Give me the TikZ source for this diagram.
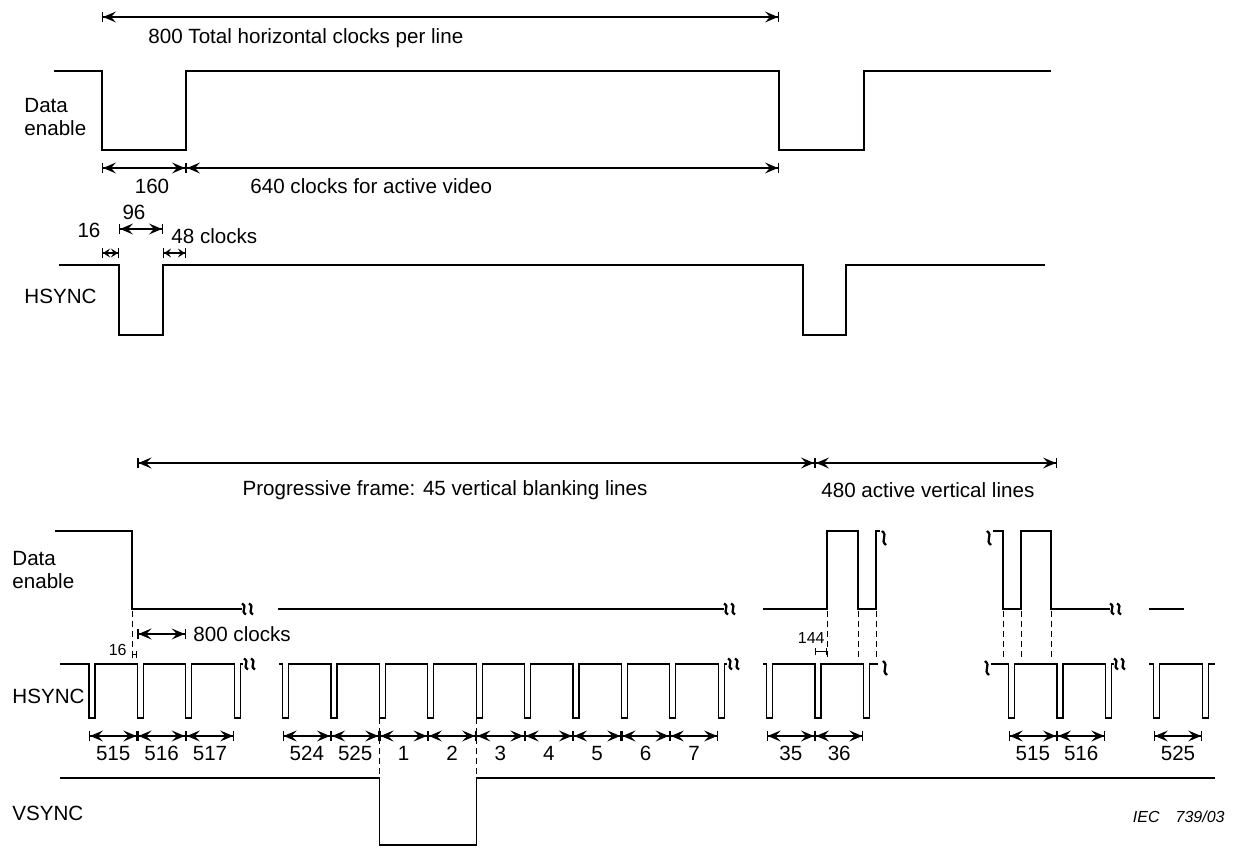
\documentclass[tikz,border=0pt]{standalone}
\usepackage{fontspec}
\setmainfont{Liberation Sans}
\usepackage{tikz}
\usetikzlibrary{arrows.meta, positioning, calc}
\tikzset{
  % Timing diagram styles
  signal/.style={line width=0.6pt},
  guide/.style={line width=0.5pt, dash pattern=on 3pt off 2pt},
  dimline/.style={line width=0.55pt, {Bar[width=5pt,sep=0pt]Stealth[length=6.5pt,width=5.5pt,inset=2.6pt,sep=0pt]}-{Stealth[length=6.5pt,width=5.5pt,inset=2.6pt,sep=0pt]Bar[width=5pt,sep=0pt]}},
  shortdim/.style={line width=0.55pt, {Bar[width=5pt,sep=0pt]Stealth[length=3.5pt,width=4.5pt,inset=1.4pt,sep=0pt]}-{Stealth[length=3.5pt,width=4.5pt,inset=1.4pt,sep=0pt]Bar[width=5pt,sep=0pt]}},
  tickline/.style={line width=0.5pt, {Bar[width=3.5pt]}-{Bar[width=3.5pt]}},
  txt/.style={font=\fontsize{10.3}{11.5}\selectfont, inner sep=0pt},
  smalltxt/.style={font=\fontsize{8}{9.6}\selectfont, inner sep=0pt},
  signame/.style={txt, align=left, anchor=west},
}
% wavy break marks: x, y, half height
\newcommand{\wavemark}[3]{%
  \draw[line width=1.1pt] (#1-2,#2-#3) .. controls +(6.5,#3*0.7) and +(-6.5,-#3*0.7) .. (#1+2,#2+#3);}
\newcommand{\twobreak}[2]{\wavemark{#1}{#2}{5.5}\wavemark{#1+7}{#2}{5.5}}
% HSYNC pulse train: start x, first pulse, last pulse, end x
\newcommand{\hgroup}[4]{%
  \draw[signal] (#1,664) foreach \k in {#2,...,#3} { -- ({89+48.4*\k},664) -- ++(0,54) -- ++(6,0) -- ++(0,-54) } -- (#4,664);}

\begin{document}
\begin{tikzpicture}[x=0.5pt, y=-0.5pt]
    \useasboundingbox (0,0) rectangle (1233,854);

    % === One line ===
    \coordinate (l0) at (102,17);
    \coordinate (l1) at (779,17);
    \draw[dimline] (l0) -- (l1);
    \node[txt, anchor=west] (total) at (148,38) {800 Total horizontal clocks per line};

    % Data enable
    \node[signame] (de1) at (24,117) {Data\\enable};
    \draw[signal] (54,71) -- (102,71) -- (102,150) -- (186,150) -- (186,71) -- (779,71)
      -- (779,150) -- (864,150) -- (864,71) -- (1051,71);

    % blanking / active
    \coordinate (a0) at (102,168);
    \coordinate (a1) at (186,168);
    \coordinate (a2) at (779,168);
    \draw[dimline] (a0) -- (a1);
    \draw[dimline] (a1) -- (a2);
    \node[txt] (blank160) at (152,186) {160};
    \node[txt, anchor=west] (act640) at (250,186) {640 clocks for active video};

    % porches and sync width
    \node[txt] (fp) at (89,230) {16};
    \node[txt] (sw) at (134,212) {96};
    \node[txt, anchor=west] (bp) at (171,236) {48 clocks};
    \draw[shortdim] (102,253) -- (119,253);
    \draw[dimline] (119,229) -- (163,229);
    \draw[shortdim] (163,253) -- (186,253);

    % HSYNC
    \node[signame] (hs1) at (24,296) {HSYNC};
    \draw[signal] (59,265) -- (119,265) -- (119,335) -- (163,335) -- (163,265) -- (803,265)
      -- (803,335) -- (846,335) -- (846,265) -- (1045,265);

    % === One frame ===
    \foreach \k in {0,...,23}
      \coordinate (p\k) at ({89+48.4*\k},736);
    \coordinate (vtop) at (0,463);
    \draw[dimline] (p1 |- vtop) -- (p15 |- vtop);
    \draw[dimline] (p15 |- vtop) -- (p20 |- vtop);
    \node[txt] (vblank) at (445,490) {Progressive frame: 45 vertical blanking lines};
    \node[txt, anchor=west] (vactive) at (821,490) {480 active vertical lines};

    % Data enable
    \node[signame] (de2) at (12,570) {Data\\enable};
    \draw[signal] (55,531) -- (132,531) -- (132,609) -- (242,609);
    \twobreak{244}{609}
    \draw[signal] (278,609) -- (724,609);
    \twobreak{726}{609}
    \draw[signal] (763,609) -- (827,609) -- (827,531) -- (858,531) -- (858,609) -- (876,609)
      -- (876,531) -- (880,531);
    \wavemark{884}{538}{7}
    \wavemark{989}{538}{7}
    \draw[signal] (993,531) -- (1003,531) -- (1003,609) -- (1021,609) -- (1021,531) -- (1051,531)
      -- (1051,609) -- (1110,609);
    \twobreak{1112}{609}
    \draw[signal] (1149,609) -- (1184,609);

    % alignment guides
    \foreach \x in {132,827,858,876,1003,1021,1051}
      \draw[guide] (\x,611) -- (\x,658);
    \draw[guide] (p6 |- 0,718) -- (p6 |- 0,778);
    \draw[guide] (p8 |- 0,718) -- (p8 |- 0,778);

    % line period and offsets
    \draw[dimline] (p1 |- 0,634) -- (p2 |- 0,634);
    \node[txt, anchor=west] (clk800) at (193,634) {800 clocks};
    \draw[tickline] (132,655) -- (p1 |- 0,655);
    \node[smalltxt, anchor=east] (off16) at (127,650) {16};
    \draw[tickline] (p15 |- 0,652) -- (827,652);
    \node[smalltxt, anchor=east] (off144) at (825,638) {144};

    % HSYNC
    \node[signame] (hs2) at (12,696) {HSYNC};
    \hgroup{60}{0}{3}{243}
    \twobreak{246}{664}
    \hgroup{279}{4}{13}{727}
    \twobreak{730}{664}
    \hgroup{763}{14}{16}{878}
    \wavemark{885}{668}{7}
    \wavemark{987}{668}{7}
    \hgroup{991}{19}{21}{1114}
    \twobreak{1116}{664}
    \hgroup{1149}{22}{23}{1215}

    % line numbers
    \foreach \a/\b/\t in {0/1/515, 1/2/516, 2/3/517, 4/5/524, 5/6/525, 6/7/1, 7/8/2, 8/9/3,
        9/10/4, 10/11/5, 11/12/6, 12/13/7, 14/15/35, 15/16/36, 19/20/515, 20/21/516, 22/23/525}
      \draw[dimline] (p\a) -- (p\b) node[txt, midway, below=4.8pt] {\t};

    % VSYNC
    \node[signame] (vs) at (12,813) {VSYNC};
    \draw[signal] (60,778) -- (p6 |- 0,778) -- (p6 |- 0,845) -- (p8 |- 0,845) -- (p8 |- 0,778) -- (1215,778);

    \node[font=\fontsize{8}{9.6}\selectfont\itshape, inner sep=0pt, anchor=east] (iec) at (1225,817) {IEC\quad 739/03};
\end{tikzpicture}
\end{document}
